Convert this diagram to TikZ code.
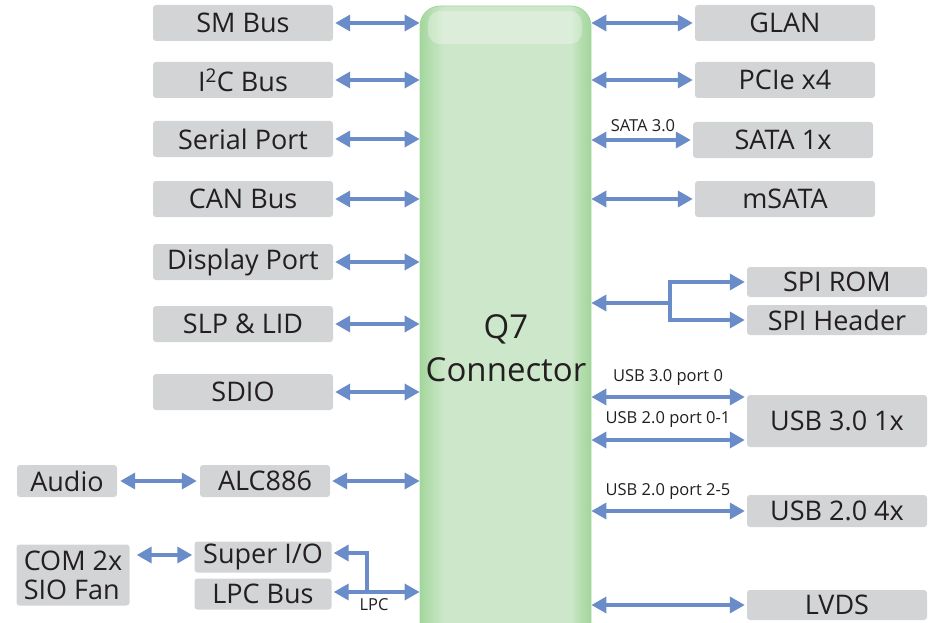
\documentclass[tikz,border=0pt]{standalone}
\usepackage{fontspec}
\setmainfont{Open Sans}
\usetikzlibrary{arrows.meta}

\definecolor{arrowblue}{HTML}{6A8CC9}
\definecolor{boxgray}{HTML}{D3D4D6}
\definecolor{txtdark}{HTML}{231F20}
\definecolor{conedge}{HTML}{A3D69C}
\definecolor{conmid}{HTML}{CDE7CA}

\pgfdeclarehorizontalshading{q7shade}{100bp}{color(0bp)=(conedge); color(25bp)=(conedge);
  color(28bp)=(conedge!55!conmid); color(32bp)=(conmid); color(69bp)=(conmid);
  color(72bp)=(conedge!60!conmid); color(75bp)=(conedge); color(100bp)=(conedge)}

\tikzset{
  blk/.style={fill=boxgray, rounded corners=3pt, text=txtdark, inner sep=0pt,
    minimum width=180pt, minimum height=36pt, font=\fontsize{27}{31}\selectfont},
  lbl/.style={text=txtdark, inner sep=0pt, font=\fontsize{16.5}{18}\selectfont},
  tip/.tip={Triangle[length=15pt,width=16pt]},
  link/.style={draw=arrowblue, line width=3.5pt, tip-tip},
  linkto/.style={draw=arrowblue, line width=3.5pt, -tip},
  linkfrom/.style={draw=arrowblue, line width=3.5pt, tip-}
}

\begin{document}
\begin{tikzpicture}[x=1pt, y=-1pt]
        \useasboundingbox (0,0) rectangle (944,623);
        \clip (0,0) rectangle (944,623);

        % Connector
        \node[minimum width=171pt, minimum height=660pt, rounded corners=20pt,
              shading=q7shade, draw=conedge, line width=0.8pt] (q7) at (505.5,336) {};
        \fill[white, opacity=0.3, rounded corners=12pt] (428,11) rectangle (582,44);
        \node[text=txtdark, align=center, font=\fontsize{33}{43}\selectfont] (q7label) at (506,348) {Q7\\Connector};

        % Nodes, left
        \node[blk] (smbus) at (243,23) {SM Bus};
        \node[blk] (ictwo) at (243,80) {I\textsuperscript{2}C Bus};
        \node[blk] (serial) at (243,139) {Serial Port};
        \node[blk] (canbus) at (243,199) {CAN Bus};
        \node[blk] (dport) at (243,262) {Display Port};
        \node[blk] (slp) at (243,324) {SLP \& LID};
        \node[blk] (sdio) at (243,392) {SDIO};
        \node[blk, minimum width=130pt, minimum height=32pt] (alc) at (265,481) {ALC886};
        \node[blk, minimum width=100pt, minimum height=32pt] (audio) at (67,481) {Audio};
        \node[blk, minimum width=137pt, minimum height=31pt] (superio) at (263,557) {Super I/O};
        \node[blk, minimum width=137pt, minimum height=31pt] (lpcbus) at (263,594) {LPC Bus};
        \node[blk, minimum width=113pt, minimum height=61pt, align=left,
              font=\fontsize{27}{29}\selectfont] (comsio) at (73,575) {COM 2x\\SIO Fan};

        % Nodes, right
        \node[blk] (glan) at (785,23) {GLAN};
        \node[blk] (pcie) at (785,80) {PCIe x4};
        \node[blk] (sata) at (783,140) {SATA 1x};
        \node[blk] (msata) at (785,199) {mSATA};
        \node[blk, minimum height=30pt] (spirom) at (837,282) {SPI ROM};
        \node[blk, minimum height=30pt] (spihdr) at (837,320) {SPI Header};
        \node[blk, minimum height=52pt] (usbthree) at (837,421) {USB 3.0 1x};
        \node[blk, minimum height=32pt] (usbtwo) at (837,511) {USB 2.0 4x};
        \node[blk, minimum height=30pt] (lvds) at (837,605) {LVDS};

        % Edges
        \foreach \n in {smbus,ictwo,serial,canbus,dport,slp,sdio,alc} {
            \draw[link, shorten <=2pt] (\n.east) -- (\n.east -| q7.west);
        }
        \foreach \n in {glan,pcie,sata,msata,usbtwo,lvds} {
            \draw[link, shorten >=2pt] (\n.west -| q7.east) -- (\n.west);
        }
        \draw[link, shorten <=3pt, shorten >=3pt] (audio) -- (alc);
        \draw[link, shorten <=7pt, shorten >=2pt] ([yshift=2pt]comsio.east |- superio.west) -- ([yshift=2pt]superio.west);

        \draw[link, shorten >=2pt] ([yshift=24pt]usbthree.west -| q7.east) -- ([yshift=24pt]usbthree.west);
        \draw[link, shorten >=2pt] ([yshift=-19pt]usbthree.west -| q7.east) -- ([yshift=-19pt]usbthree.west);

        \coordinate (spifork) at (670,303);
        \draw[linkfrom] (q7.east |- spifork) -- (spifork);
        \draw[linkto, shorten >=2pt] (spifork) |- (spirom.west);
        \draw[linkto, shorten >=2pt] (spifork) |- (spihdr.west);

        \coordinate (lpcfork) at (367,592);
        \draw[link, shorten <=2pt] ([yshift=2pt]lpcbus.east) -- ([yshift=2pt]lpcbus.east -| q7.west);
        \draw[linkto, shorten >=2pt] (lpcfork) |- ([yshift=4pt]superio.east);

        % Labels
        \node[lbl] (satalbl) at (643,126) {SATA 3.0};
        \node[lbl] (usbzero) at (668,377) {USB 3.0 port 0};
        \node[lbl] (usbzeroone) at (668,419) {USB 2.0 port 0-1};
        \node[lbl] (usbtwofive) at (668,491) {USB 2.0 port 2-5};
        \node[lbl] (lpclbl) at (374,605) {LPC};
    \end{tikzpicture}
\end{document}
